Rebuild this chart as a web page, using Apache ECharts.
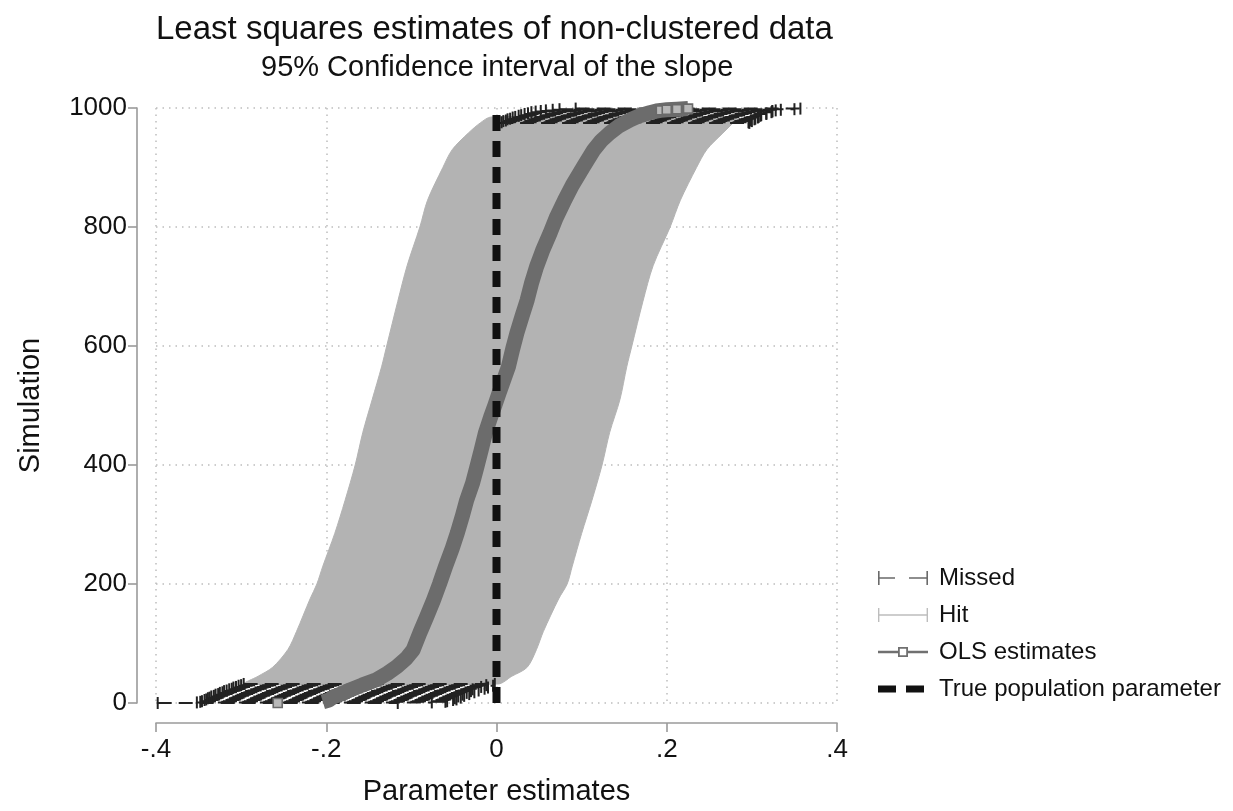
<!DOCTYPE html>
<html><head><meta charset="utf-8">
<script src="https://cdn.jsdelivr.net/npm/echarts@6/dist/echarts.min.js"></script>
<style>html,body{margin:0;padding:0;background:#fff}#c{width:1233px;height:811px}</style>
</head><body><div id="c"></div>
<script>
// ---------- text ----------
const titleText = 'Least squares estimates of non-clustered data';
const subtitleText = '95% Confidence interval of the slope';
const xAxisTitle = 'Parameter estimates';
const yAxisTitle = 'Simulation';
const legendNames = ['Missed', 'Hit', 'OLS estimates', 'True population parameter'];
const xTickLabels = ['-.4', '-.2', '0', '.2', '.4'];
const yTickLabels = ['0', '200', '400', '600', '800', '1000'];

// ---------- hit confidence intervals (edges of the band, by simulation rank) ----------
const hitRanks = [32, 45, 60, 90, 120, 175, 200, 230, 285, 340, 400, 455, 510, 565, 600, 675, 735, 800, 845, 900, 930, 958, 975, 985];
const hitLower = [-0.296, -0.280, -0.263, -0.245, -0.235, -0.219, -0.211, -0.204, -0.190, -0.178, -0.166, -0.157, -0.146, -0.135, -0.129, -0.116, -0.105, -0.090, -0.081, -0.063, -0.052, -0.033, -0.019, -0.006];
const hitUpper = [0.002, 0.018, 0.036, 0.047, 0.055, 0.073, 0.083, 0.089, 0.100, 0.112, 0.124, 0.133, 0.145, 0.153, 0.159, 0.172, 0.184, 0.204, 0.216, 0.235, 0.247, 0.266, 0.278, 0.284];

// ---------- OLS estimates ----------
const olsRanks = [0, 2, 5, 10, 16, 22, 30, 39, 50, 61, 75, 89, 118, 145, 173, 200, 229, 260, 286, 315, 341, 370, 397, 425, 454, 480, 500, 521, 545, 565, 595, 622, 650, 677, 705, 733, 760, 790, 815, 845, 870, 901, 929, 945, 958, 970, 980, 987, 992, 995, 996, 997, 998, 999];
const olsEstimates = [-0.257, -0.204, -0.197, -0.192, -0.181, -0.172, -0.158, -0.141, -0.128, -0.117, -0.106, -0.098, -0.090, -0.082, -0.074, -0.067, -0.060, -0.052, -0.046, -0.040, -0.035, -0.028, -0.023, -0.018, -0.013, -0.007, -0.002, 0.003, 0.009, 0.014, 0.019, 0.024, 0.030, 0.036, 0.041, 0.047, 0.054, 0.063, 0.070, 0.080, 0.089, 0.102, 0.114, 0.123, 0.133, 0.144, 0.157, 0.168, 0.180, 0.188, 0.193, 0.200, 0.212, 0.225];

// ---------- missed confidence intervals ----------
const missedRanks = [0, 1, 2, 3, 5, 6, 8, 9, 11, 12, 14, 15, 17, 18, 20, 21, 23, 24, 26, 27, 29, 30, 32,
                     975, 976, 978, 979, 981, 982, 984, 985, 987, 988, 990, 991, 993, 994, 995, 996, 997, 998, 999];
const missedLower = [-0.398, -0.352, -0.348, -0.346, -0.343, -0.341, -0.339, -0.337, -0.335, -0.332, -0.330, -0.327, -0.325, -0.322, -0.320, -0.317, -0.314, -0.311, -0.309, -0.306, -0.303, -0.300, -0.297,
                     0.003, 0.006, 0.008, 0.011, 0.013, 0.016, 0.019, 0.022, 0.026, 0.029, 0.033, 0.037, 0.041, 0.046, 0.052, 0.058, 0.066, 0.074, 0.093];
const missedUpper = [-0.116, -0.076, -0.060, -0.058, -0.051, -0.047, -0.049, -0.042, -0.045, -0.038, -0.040, -0.032, -0.035, -0.026, -0.030, -0.021, -0.028, -0.014, -0.010, -0.018, -0.004, -0.012, -0.002,
                     0.297, 0.296, 0.300, 0.299, 0.303, 0.304, 0.307, 0.308, 0.310, 0.311, 0.317, 0.317, 0.323, 0.324, 0.324, 0.328, 0.334, 0.350, 0.357];

// ---------- true population parameter ----------
const trueParamX = [0, 0];
const trueParamY = [0, 1000];

// ---------- axis ranges ----------
const xMin = -0.4, xMax = 0.4, xStep = 0.2;
const yMin = 0, yMax = 1000, yStep = 200;

const FONT = '"Liberation Sans", Arial, Helvetica, sans-serif';
const INK = '#111111';
const AXIS = '#9a9a9a';
const GRIDC = '#bdbdbd';

// OLS data: the lowest estimate stands apart from the rest (break the thick line after it)
const olsData = [];
olsRanks.forEach((r, i) => {
  const item = { value: [olsEstimates[i], r] };
  if (i === 0 || i >= olsRanks.length - 4) item.symbolSize = 9;
  olsData.push(item);
  if (i === 0) olsData.push({ value: ['-', '-'] });
});

function renderBand(params, api) {
  if (params.dataIndex !== 0) return null;
  const pts = [];
  for (let i = 0; i < hitRanks.length; i++) pts.push(api.coord([hitLower[i], hitRanks[i]]));
  for (let i = hitRanks.length - 1; i >= 0; i--) pts.push(api.coord([hitUpper[i], hitRanks[i]]));
  return { type: 'polygon', shape: { points: pts, smooth: 0.3 }, style: { fill: '#b3b3b3', stroke: '#b3b3b3', lineWidth: 1 } };
}

function renderMissed(params, api) {
  const a = api.coord([api.value(0), api.value(2)]);
  const b = api.coord([api.value(1), api.value(2)]);
  const cap = 6;
  const st = { stroke: '#222222', lineWidth: 2 };
  return {
    type: 'group', children: [
      { type: 'line', shape: { x1: a[0], y1: a[1], x2: b[0], y2: b[1] }, style: Object.assign({ lineDash: [14, 7] }, st) },
      { type: 'line', shape: { x1: a[0], y1: a[1] - cap, x2: a[0], y2: a[1] + cap }, style: st },
      { type: 'line', shape: { x1: b[0], y1: b[1] - cap, x2: b[0], y2: b[1] + cap }, style: st }
    ]
  };
}

const iconMissed = 'path://M0,0L1.6,0L1.6,6.2L17,6.2L17,7.8L1.6,7.8L1.6,14L0,14Z M31,6.2L48.4,6.2L48.4,0L50,0L50,14L48.4,14L48.4,7.8L31,7.8Z';
const iconHit = 'path://M0,0L1.4,0L1.4,6.3L48.6,6.3L48.6,0L50,0L50,14L48.6,14L48.6,7.7L1.4,7.7L1.4,14L0,14Z';
const iconOls = 'path://M0,5.8L20,5.8L20,2L30,2L30,5.8L50,5.8L50,8.2L30,8.2L30,12L20,12L20,8.2L0,8.2Z M21.8,3.8L21.8,10.2L28.2,10.2L28.2,3.8Z';
const iconTrue = 'path://M0,3.5L18,3.5L18,10.5L0,10.5Z M28,3.5L46,3.5L46,10.5L28,10.5Z M50,7L50,7.01L49.99,7.01Z';

const chart = echarts.init(document.getElementById('c'), null, { renderer: 'canvas' });
chart.setOption({
  animation: false,
  backgroundColor: '#ffffff',
  textStyle: { fontFamily: FONT },
  title: [
    { text: titleText, left: 151, top: 8, textStyle: { fontSize: 33, fontWeight: 'normal', color: INK, fontFamily: FONT } },
    { text: subtitleText, left: 256, top: 48, textStyle: { fontSize: 29, fontWeight: 'normal', color: INK, fontFamily: FONT } }
  ],
  legend: {
    orient: 'vertical', left: 873, top: 560, selectedMode: false,
    itemWidth: 50, itemHeight: 14, itemGap: 11,
    textStyle: { fontSize: 24, color: INK, fontFamily: FONT, lineHeight: 26, padding: [0, 0, 0, 6] },
    data: [
      { name: legendNames[0], icon: iconMissed, itemStyle: { color: '#6a6a6a', borderWidth: 0 } },
      { name: legendNames[1], icon: iconHit, itemStyle: { color: '#bdbdbd', borderWidth: 0 } },
      { name: legendNames[2], icon: iconOls, itemStyle: { color: '#707070', borderWidth: 0 } },
      { name: legendNames[3], icon: iconTrue, itemStyle: { color: '#111111', borderWidth: 0 } }
    ]
  },
  grid: { left: 156, right: 396, top: 108, bottom: 108, containLabel: false },
  xAxis: {
    type: 'value', min: xMin, max: xMax, interval: xStep, offset: 20,
    name: xAxisTitle, nameLocation: 'middle', nameGap: 54,
    nameTextStyle: { fontSize: 29, color: INK, fontFamily: FONT },
    axisLine: { show: true, onZero: false, lineStyle: { color: AXIS, width: 1.6 } },
    axisTick: { show: true, length: 9, lineStyle: { color: AXIS, width: 1.6 } },
    axisLabel: { fontSize: 26, color: INK, margin: 14, fontFamily: FONT,
      formatter: v => xTickLabels[Math.round((v - xMin) / xStep)] },
    splitLine: { show: true, showMinLine: true, showMaxLine: true, lineStyle: { color: GRIDC, width: 1.5, type: [1.5, 5] } }
  },
  yAxis: {
    type: 'value', min: yMin, max: yMax, interval: yStep, offset: 19,
    name: yAxisTitle, nameLocation: 'middle', nameGap: 92, nameRotate: 90,
    nameTextStyle: { fontSize: 29, color: INK, fontFamily: FONT },
    axisLine: { show: true, onZero: false, lineStyle: { color: AXIS, width: 1.6 } },
    axisTick: { show: true, length: 9, lineStyle: { color: AXIS, width: 1.6 } },
    axisLabel: { fontSize: 26, color: INK, margin: 10, fontFamily: FONT,
      formatter: v => yTickLabels[Math.round((v - yMin) / yStep)] },
    splitLine: { show: true, showMinLine: true, showMaxLine: true, lineStyle: { color: GRIDC, width: 1.5, type: [1.5, 5] } }
  },
  series: [
    {
      name: legendNames[1], type: 'custom', renderItem: renderBand,
      data: hitRanks.map((r, i) => [hitLower[i], hitUpper[i], r]),
      encode: { x: [0, 1], y: 2 }, itemStyle: { color: '#b3b3b3' }, silent: true
    },
    {
      name: legendNames[0], type: 'custom', renderItem: renderMissed,
      data: missedRanks.map((r, i) => [missedLower[i], missedUpper[i], r]),
      encode: { x: [0, 1], y: 2 }, itemStyle: { color: '#222222' }, silent: true
    },
    {
      name: legendNames[2], type: 'line', data: olsData,
      symbol: 'rect', symbolSize: 0, showSymbol: true, connectNulls: false,
      lineStyle: { color: '#6c6c6c', width: 15, join: 'round' },
      itemStyle: { color: '#b8b8b8', borderColor: '#6a6a6a', borderWidth: 1.6 },
      silent: true, z: 3
    },
    {
      name: legendNames[3], type: 'line', data: trueParamX.map((x, i) => [x, trueParamY[i]]),
      symbol: 'none', lineStyle: { color: '#111111', width: 8, type: [16, 10], cap: 'butt' },
      silent: true, z: 4
    }
  ]
});
</script>
</body></html>
